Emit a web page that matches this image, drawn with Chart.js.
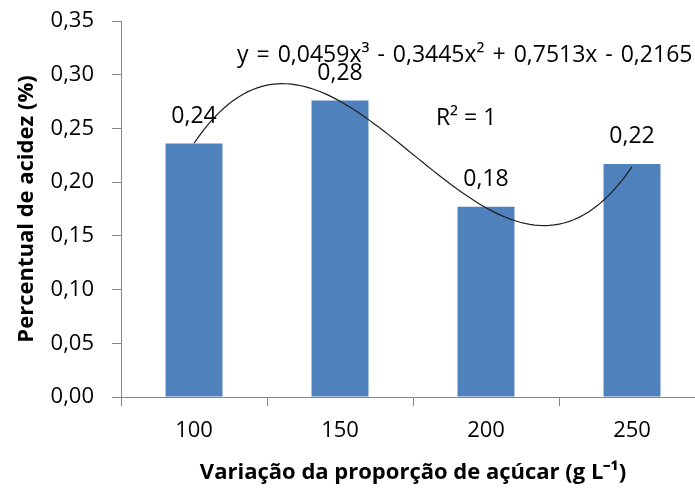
<!DOCTYPE html>
<html>
<head>
<meta charset="utf-8">
<script src="https://cdn.jsdelivr.net/npm/chart.js@4/dist/chart.umd.min.js"></script>
<style>
  html, body { margin: 0; padding: 0; background: #fff; overflow: hidden; }
  #wrap { position: relative; width: 715px; height: 491px; }
</style>
</head>
<body>
<div id="wrap"><canvas id="c"></canvas></div>
<script>
// Sugar proportion (g L-1) and titratable acidity (%)
const categories = ['100', '150', '200', '250'];
const acidity = [0.236, 0.276, 0.177, 0.217];
// Cubic trendline coefficients: x³, x², x, constant
const trendCoef = [0.0459, -0.3445, 0.7513, -0.2165];
const rSquared = 1;
const yAxisRange = { min: 0, max: 0.35, step: 0.05 };
const xTitle = 'Variação da proporção de açúcar (g L⁻¹)';
const yTitle = 'Percentual de acidez (%)';

const BLUE = '#4F81BD';
const AXIS = '#868686';
const TEXT = '#000000';
const FONT = '"Open Sans", "Liberation Sans", sans-serif';

const comma = (v, d) => v.toFixed(d).replace('.', ',');

// Equation text written from the coefficients
function equationText(c) {
  const pow = ['x³', 'x²', 'x', ''];
  let s = 'y = ' + comma(Math.abs(c[0]), 4) + pow[0];
  for (let i = 1; i < c.length; i++) {
    s += (c[i] < 0 ? ' - ' : ' + ') + comma(Math.abs(c[i]), 4) + pow[i];
  }
  return s;
}

// Trendline sampled along the category positions 1..4
const trendPoints = [];
for (let i = 0; i <= 90; i++) {
  const x = 1 + i * (3 / 90);
  const y = trendCoef[0] * x * x * x + trendCoef[1] * x * x + trendCoef[2] * x + trendCoef[3];
  trendPoints.push({ x, y });
}

const labelPlugin = {
  id: 'valueLabels',
  afterDatasetsDraw(chart) {
    const ctx = chart.ctx;
    const meta = chart.getDatasetMeta(0);
    ctx.save();
    ctx.font = '23px ' + FONT;
    ctx.fillStyle = TEXT;
    ctx.textAlign = 'center';
    ctx.textBaseline = 'middle';
    meta.data.forEach((bar, i) => {
      ctx.fillText(comma(acidity[i], 2), bar.x, bar.y - 27);
    });
    const xs = chart.scales.xt, ys = chart.scales.y;
    ctx.textAlign = 'left';
    ctx.wordSpacing = '2px';
    ctx.fillText(equationText(trendCoef), xs.getPixelForValue(1.295), ys.getPixelForValue(0.3175));
    ctx.wordSpacing = '0px';
    ctx.fillText('R² = ' + rSquared, xs.getPixelForValue(2.657), ys.getPixelForValue(0.2593));
    ctx.restore();
  }
};

new Chart(document.getElementById('c'), {
  type: 'bar',
  data: {
    labels: categories,
    datasets: [
      {
        label: 'Acidez',
        data: acidity,
        backgroundColor: BLUE,
        borderWidth: 0,
        grouped: false,
        categoryPercentage: 1,
        barPercentage: 0.39,
        order: 1
      },
      {
        type: 'line',
        label: 'Tendência',
        data: trendPoints,
        xAxisID: 'xt',
        yAxisID: 'y',
        borderColor: '#1e1e1e',
        borderWidth: 1.2,
        pointRadius: 0,
        fill: false,
        tension: 0,
        order: 0
      }
    ]
  },
  options: {
    responsive: true,
    maintainAspectRatio: false,
    animation: false,
    events: [],
    layout: { padding: { left: 0, right: 10, top: 21, bottom: 0 } },
    plugins: { legend: { display: false }, tooltip: { enabled: false } },
    scales: {
      x: {
        type: 'category',
        offset: true,
        grid: { offset: true, drawOnChartArea: false, drawTicks: true, tickLength: 9, color: AXIS },
        border: { color: AXIS, width: 1 },
        ticks: { color: TEXT, font: { family: FONT, size: 22 }, padding: 12, maxRotation: 0 },
        title: { display: true, text: xTitle, color: TEXT, font: { family: FONT, size: 22, weight: 'bold' }, padding: { top: 0, bottom: 5 } },
        afterFit(scale) { scale.height = 94; }
      },
      xt: {
        type: 'linear',
        display: false,
        offset: false,
        min: 0.5,
        max: 4.5
      },
      y: {
        min: yAxisRange.min,
        max: yAxisRange.max,
        grid: { drawOnChartArea: false, drawTicks: true, tickLength: 9, color: AXIS },
        border: { color: AXIS, width: 1 },
        ticks: {
          stepSize: yAxisRange.step,
          color: TEXT,
          font: { family: FONT, size: 22 },
          padding: 18,
          callback: (v) => comma(v, 2)
        },
        title: { display: true, text: yTitle, color: TEXT, font: { family: FONT, size: 22, weight: 'bold' }, padding: { top: 14, bottom: 0 } },
        afterFit(scale) {
          scale.width = 121;
          scale.paddingTop = 0;
          scale.paddingBottom = 0;
        }
      }
    }
  },
  plugins: [labelPlugin]
});
</script>
</body>
</html>
